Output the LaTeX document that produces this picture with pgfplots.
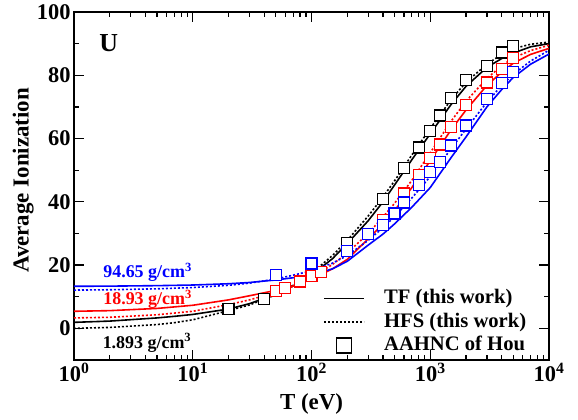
\documentclass[border=0pt]{standalone}
\usepackage{pgfplots}
\pgfplotsset{compat=1.18}
\usepackage{fontspec}
\setmainfont{Liberation Serif}
\pgfplotsset{
  lineleg/.style={legend image code/.code={\draw[##1] (0bp,0bp) -- (40bp,0bp);}},
  markleg/.style={legend image code/.code={\draw[##1, only marks] plot coordinates {(20bp,0bp)};}},
}
\begin{document}
\begin{tikzpicture}
\begin{axis}[
  at={(0,0)}, anchor=south west,
  width=475bp, height=348bp, scale only axis,
  xmode=log, xmin=1, xmax=10000, ymin=-10, ymax=100,
  xtick={1,10,100,1000,10000},
  xticklabels={{10\textsuperscript{0}},{10\textsuperscript{1}},{10\textsuperscript{2}},{10\textsuperscript{3}},{10\textsuperscript{4}}},
  ytick={0,20,40,60,80,100}, yticklabels={0,20,40,60,80,100},
  minor y tick num=1,
  tick align=inside,
  major tick length=10bp, minor tick length=5bp,
  every tick/.style={black, line width=1.2bp},
  axis line style={line width=1.6bp},
  ticklabel style={font=\fontsize{22.5}{26}\selectfont\bfseries},
  every axis y label/.style={at={(axis description cs:-0.107,0.516)}, rotate=90, anchor=center, font=\fontsize{23}{26}\selectfont\bfseries},
  every axis x label/.style={at={(axis description cs:0.5,-0.126)}, anchor=center, font=\fontsize{23}{26}\selectfont\bfseries},
  xlabel={T (eV)}, ylabel={Average Ionization},
  legend style={at={(axis description cs:0.525,0.208)}, anchor=north west, draw=none, fill=none, inner sep=0pt,
    font=\fontsize{20.7}{24}\selectfont\bfseries, row sep=2bp,
    nodes={inner sep=1bp, text height=15bp, text depth=4.5bp}},
  legend cell align=left,
  /tikz/every odd column/.append style={column sep=18bp},
]
% ---- curves: TF solid, HFS dotted ----
\addplot[black, line width=1.6bp, forget plot] table {
1 1.9
2 2.3
5 3.3
7 3.8
10 4.4
20 6.1
30 7.8
50 10.8
70 13.4
100 16.9
150 22.0
200 26.8
300 34.0
400 40.0
500 45.3
700 53.3
1000 61.5
1500 70.8
2000 76.5
3000 82.5
4000 85.3
5000 87.0
7000 89.0
10000 90.0
};
\addplot[black, line width=1.6bp, dash pattern=on 2bp off 2bp, forget plot] table {
1 0.0
2 0.3
5 1.2
7 1.8
10 2.7
20 5.6
30 7.4
50 10.6
70 13.6
100 17.4
150 23.0
200 27.8
300 35.5
400 41.5
500 46.6
700 54.8
1000 63.2
1500 72.3
2000 77.8
3000 83.5
4000 86.6
5000 88.4
7000 89.8
10000 90.5
};
\addplot[red, line width=1.6bp, forget plot] table {
1 5.4
2 5.6
5 6.3
10 7.3
20 9.0
30 10.3
50 12.0
70 13.4
100 15.5
150 18.8
200 21.8
300 28.3
400 33.0
500 37.2
700 44.5
1000 53.0
1500 62.8
2000 69.0
3000 76.8
4000 81.0
5000 83.8
7000 86.6
10000 88.5
};
\addplot[red, line width=1.6bp, dash pattern=on 2bp off 2bp, forget plot] table {
1 3.3
2 3.5
5 4.3
10 5.4
20 7.5
30 9.0
50 11.3
70 13.3
100 16.0
150 20.2
200 23.8
300 30.0
400 35.2
500 39.5
700 46.8
1000 55.5
1500 65.5
2000 71.8
3000 79.0
4000 83.0
5000 85.5
7000 87.8
10000 89.5
};
\addplot[blue, line width=1.6bp, forget plot] table {
1 13.3
2 13.35
5 13.5
10 13.7
20 14.1
30 14.5
50 15.3
70 16.0
100 16.9
150 18.8
200 21.2
300 26.3
400 29.8
500 33.0
700 38.3
1000 44.5
1500 54.0
2000 60.5
3000 70.0
4000 75.5
5000 79.3
7000 83.5
10000 86.7
};
\addplot[blue, line width=1.6bp, dash pattern=on 2bp off 2bp, forget plot] table {
1 12.1
2 12.2
5 12.5
10 12.9
20 13.6
30 14.3
50 15.6
70 16.8
100 18.2
150 20.6
200 23.0
300 27.8
400 31.8
500 35.3
700 41.2
1000 48.0
1500 56.8
2000 63.0
3000 71.5
4000 76.8
5000 80.3
7000 84.5
10000 87.9
};
% ---- AAHNC of Hou ----
\addplot[only marks, black, mark=square*, mark size=5.5bp, mark options={fill=white, line width=1.2bp}, forget plot] table {
20 6.1
40 9.4
100 17.6
200 27.1
400 41.0
600 50.7
800 57.2
1000 62.3
1200 67.3
1500 72.8
2000 78.4
3000 82.9
4000 87.2
5000 89.2
};
\addplot[only marks, red, mark=square*, mark size=5.5bp, mark options={fill=white, line width=1.2bp}, forget plot] table {
50 11.7
60 12.8
80 14.8
100 16.5
120 17.8
400 34.3
600 42.6
800 48.6
1000 53.8
1200 58.1
1500 63.6
2000 70.6
3000 77.7
4000 81.9
5000 85.5
};
\addplot[only marks, blue, mark=square*, mark size=5.5bp, mark options={fill=white, line width=1.2bp}, forget plot] table {
50 16.8
100 20.5
200 24.4
300 29.8
400 32.7
500 36.3
600 39.8
800 45.3
1000 49.3
1200 52.5
1500 57.8
2000 64.1
3000 72.6
4000 77.6
5000 81.1
};
% ---- legend ----
\addlegendimage{black, line width=1.6bp, lineleg}
\addlegendentry{TF (this work)}
\addlegendimage{black, line width=1.6bp, dash pattern=on 2bp off 2bp, lineleg}
\addlegendentry{HFS (this work)}
\addlegendimage{black, mark=square, mark size=7.5bp, mark options={line width=1.2bp}, markleg}
\addlegendentry{AAHNC of Hou}
% ---- text ----
\node[anchor=base west, inner sep=0pt, text=blue, font=\fontsize{18}{20}\selectfont\bfseries] at (axis cs:1.76,16.0) {94.65 g/cm\textsuperscript{3}};
\node[anchor=base west, inner sep=0pt, text=red, font=\fontsize{18}{20}\selectfont\bfseries] at (axis cs:1.76,7.5) {18.93 g/cm\textsuperscript{3}};
\node[anchor=base west, inner sep=0pt, text=black, font=\fontsize{18}{20}\selectfont\bfseries] at (axis cs:1.74,-6.25) {1.893 g/cm\textsuperscript{3}};
\node[anchor=base west, inner sep=0pt, font=\fontsize{26}{28}\selectfont\bfseries] at (axis cs:1.63,87.4) {U};
\end{axis}
\pgfresetboundingbox
\path[use as bounding box] (-74bp,-60bp) rectangle (504bp,360bp);
\end{tikzpicture}
\end{document}
